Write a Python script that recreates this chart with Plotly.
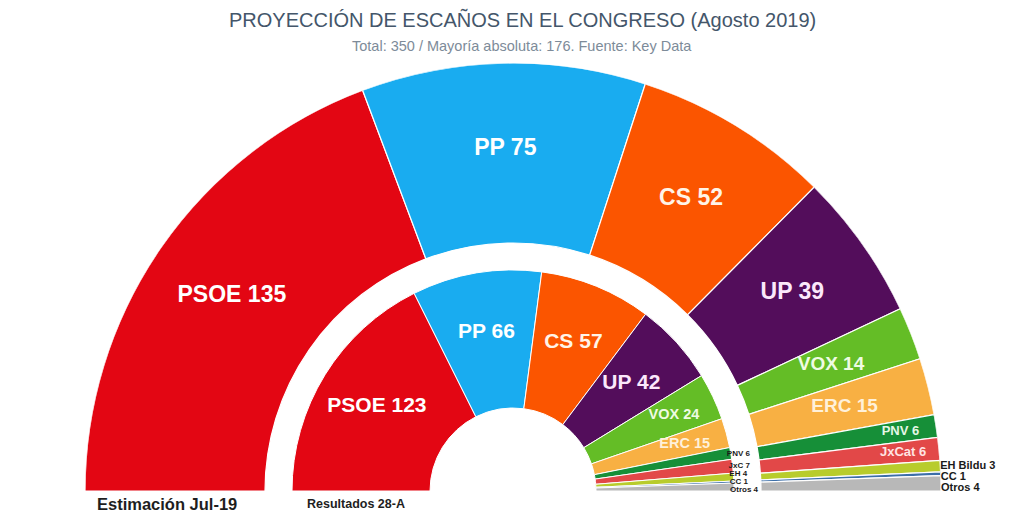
import math
import plotly.graph_objects as go

# Estimación Jul-19 (outer ring)
outer_parties = ["PSOE 135", "PP 75", "CS 52", "UP 39", "VOX 14", "ERC 15",
                 "PNV 6", "JxCat 6", "EH Bildu 3", "CC 1", "Otros 4"]
outer_seats = [135, 75, 52, 39, 14, 15, 6, 6, 3, 1, 4]

# Resultados 28-A (inner ring)
inner_parties = ["PSOE 123", "PP 66", "CS 57", "UP 42", "VOX 24", "ERC 15",
                 "PNV 6", "JxC 7", "EH 4", "CC 1", "Otros 4"]
inner_seats = [123, 66, 57, 42, 24, 15, 6, 7, 4, 1, 4]

colors = ["#e30613", "#19acf0", "#fb5500", "#530d5b", "#64bd26", "#f8b043",
          "#168f38", "#e24848", "#b8cc2c", "#3b6ea8", "#b8b8b8"]
text_colors = ["#ffffff", "#ffffff", "#fff4e8", "#fbe8fb", "#effbe3", "#fff1da",
               "#e6f7e6", "#ffe3e3"]

R_OUT, R_OUT_IN = 428, 248
R_IN, R_IN_IN = 221, 83
W, H = 1024, 528
OFF = 8  # page body margin shifts the figure


def px(x):
    return (x - OFF) / W


def py(y):
    return 1 - (y - OFF) / H


def ring(seats, r0, r1, line_w):
    total = sum(seats)
    widths = [s * 180 / total for s in seats]
    mids, acc = [], 0
    for w in widths:
        mids.append(acc + w / 2)
        acc += w
    bars = go.Barpolar(
        theta=mids, width=widths, base=[r0] * len(seats),
        r=[r1 - r0] * len(seats),
        marker=dict(color=colors, line=dict(color="white", width=line_w)),
        hoverinfo="skip", showlegend=False,
    )
    return bars, mids


def labels(names, seats, mids, r_big, r_mid, big, mid_size,
           small_in, small_in_r, n_inside, small_out, small_r, gap, floor):
    th, rr, sz, col = [], [], [], []
    outside = []
    for i, (n, s, m) in enumerate(zip(names, seats, mids)):
        if i >= n_inside:
            outside.append(i)
            continue
        th.append(m)
        col.append(text_colors[i])
        if s >= 35:
            rr.append(r_big)
            sz.append(big)
        elif s >= 10:
            rr.append(r_mid)
            sz.append(mid_size)
        else:
            rr.append(small_in_r)
            sz.append(small_in)
    inside = go.Scatterpolar(
        theta=th, r=rr, mode="text", text=names[:n_inside],
        textposition="middle center",
        textfont=dict(family="Liberation Sans, Arial", size=sz, color=col,
                      weight="bold"),
        cliponaxis=False, hoverinfo="skip", showlegend=False,
    )
    # stack the labels of the thin slices in a column without overlap
    hs = [small_r * math.sin(math.radians(180 - mids[i])) for i in outside]
    for k in range(1, len(hs)):
        hs[k] = min(hs[k], hs[k - 1] - gap)
    hs[-1] = max(hs[-1], floor)
    for k in range(len(hs) - 2, -1, -1):
        hs[k] = max(hs[k], hs[k + 1] + gap)
    ot = [180 - math.degrees(math.asin(h / small_r)) for h in hs]
    out = go.Scatterpolar(
        theta=ot, r=[small_r] * len(ot), mode="text",
        text=[names[i] for i in outside], textposition="middle right",
        textfont=dict(family="Liberation Sans, Arial", size=small_out,
                      color="#1a1a1a", weight="bold"),
        cliponaxis=False, hoverinfo="skip", showlegend=False,
    )
    return [inside, out]


outer_bars, outer_mids = ring(outer_seats, R_OUT_IN, R_OUT, 1.2)
inner_bars, inner_mids = ring(inner_seats, R_IN_IN, R_IN, 1.0)

fig = go.Figure([outer_bars, inner_bars])
fig.add_traces(labels(outer_parties, outer_seats, outer_mids, 342, 342, 23, 19,
                      13, 392, 8, 11, 428, 11, 3))
fig.add_traces(labels(inner_parties, inner_seats, inner_mids, 160, 178, 21, 14.5,
                      9, 200, 6, 8, 217, 8, 1))

fig.update_layout(
    width=W, height=H,
    margin=dict(l=0, r=0, t=0, b=0),
    paper_bgcolor="white",
    font=dict(family="Liberation Sans, Arial"),
    polar=dict(
        domain=dict(x=[px(85), px(941)], y=[py(491), py(491) + 428 / H]),
        sector=[0, 180],
        hole=0,
        bgcolor="white",
        bargap=0,
        angularaxis=dict(visible=False, rotation=180, direction="clockwise",
                         showgrid=False),
        radialaxis=dict(visible=False, range=[0, R_OUT], showgrid=False),
    ),
    annotations=[
        dict(text="PROYECCIÓN DE ESCAÑOS EN EL CONGRESO (Agosto 2019)",
             x=px(522), y=py(19), font=dict(size=20, color="#44566a")),
        dict(text="Total: 350 / Mayoría absoluta: 176. Fuente: Key Data",
             x=px(522), y=py(46), font=dict(size=14.5, color="#7d8b99")),
        dict(text="<b>Estimación Jul-19</b>", x=px(167), y=py(504),
             font=dict(size=16.5, color="#1e1e1e")),
        dict(text="<b>Resultados 28-A</b>", x=px(356), y=py(504),
             font=dict(size=12.5, color="#1e1e1e")),
    ],
)
fig.update_annotations(xref="paper", yref="paper", showarrow=False,
                       xanchor="center", yanchor="middle")

fig.write_html("out.html")
